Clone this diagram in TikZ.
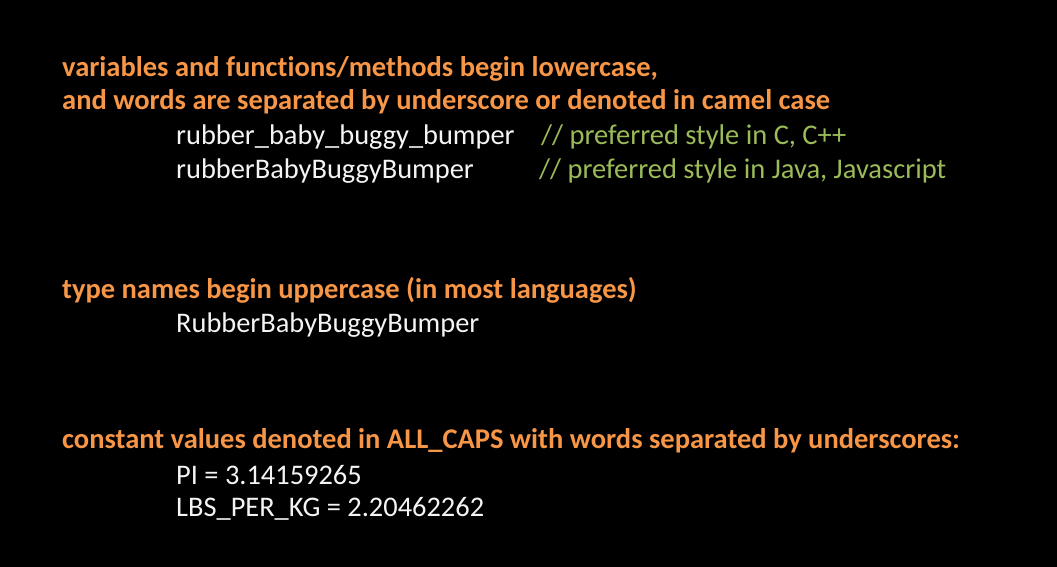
\documentclass[tikz,border=0pt]{standalone}
\usepackage{fontspec}
\setmainfont[Ligatures=NoCommon]{Carlito}
\definecolor{slideorange}{HTML}{F79646}
\definecolor{slidegreen}{HTML}{9BBB59}
\definecolor{slidewhite}{HTML}{F4F4F4}
\begin{document}
\begin{tikzpicture}[x=1pt,y=-1pt,
  head/.style={anchor=base west,inner sep=0pt,text=slideorange,font=\fontsize{28.5}{32}\selectfont\bfseries},
  code/.style={anchor=base west,inner sep=0pt,text=slidewhite,font=\fontsize{28.4}{32}\selectfont},
  note/.style={anchor=base west,inner sep=0pt,text=slidegreen,font=\fontsize{28.5}{32}\selectfont}]
\fill[black] (0,0) rectangle (1057,567);
\useasboundingbox (0,0) rectangle (1057,567);
\node[head] (h1) at (62,77) {variables and functions/methods begin lowercase,};
\node[head] (h2) at (62,110) {and words are separated by underscore or denoted in camel case};
\node[code] (c1) at (176,145) {rubber\_baby\_buggy\_bumper};
\node[note] (n1) at (541,145) {// preferred style in C, C++};
\node[code] (c2) at (176,178) {rubberBabyBuggyBumper};
\node[note] (n2) at (539,178) {// preferred style in Java, Javascript};
\node[head] (h3) at (62,298) {type names begin uppercase (in most languages)};
\node[code] (c3) at (176,332) {RubberBabyBuggyBumper};
\node[head] (h4) at (62,448) {constant values denoted in ALL\_CAPS with words separated by underscores:};
\node[code] (c4) at (176,484) {PI = 3.14159265};
\node[code] (c5) at (176,516) {LBS\_PER\_KG = 2.20462262};
\end{tikzpicture}
\end{document}
